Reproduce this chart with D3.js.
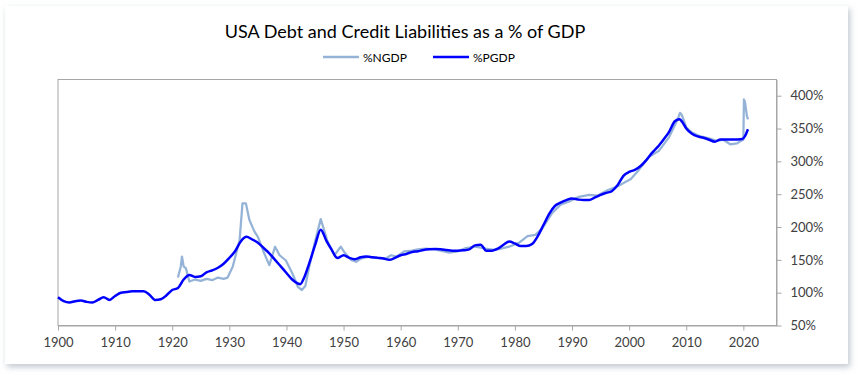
<!DOCTYPE html>
<html>
<head>
<meta charset="utf-8">
<script src="https://cdn.jsdelivr.net/npm/d3@7/dist/d3.min.js"></script>
<style>
  html, body { margin: 0; padding: 0; background: #ffffff; }
  svg { display: block; }
  text { font-family: Lato, "Open Sans", sans-serif; }
</style>
</head>
<body>
<svg id="chart" width="858" height="376"></svg>
<script>
// ---- Data ----
const title = "USA Debt and Credit Liabilities as a % of GDP";
const seriesNames = ["%NGDP", "%PGDP"];
const xTicks = [1900, 1910, 1920, 1930, 1940, 1950, 1960, 1970, 1980, 1990, 2000, 2010, 2020];
const yTicks = [50, 100, 150, 200, 250, 300, 350, 400];

const pgdpYears = [1900,1901,1902,1903,1904,1905,1906,1907,1908,1909,1910,1911,1912,1913,1914,1915,1916,1917,1918,1919,
  1920,1921,1922,1923,1924,1925,1926,1927,1928,1929,1930,1931,1932,1933,1934,1935,1936,1937,1938,1939,
  1940,1941,1942,1942.4,1943,1944,1945,1946,1947,1948,1948.7,1949,1950,1951,1952,1953,1954,1955,1956,1957,1958,1959,
  1960,1961,1962,1963,1964,1965,1966,1967,1968,1969,1970,1971,1972,1973,1974,1975,1976,1977,1978,1979,
  1980,1981,1982,1983,1984,1985,1986,1987,1988,1989,1990,1991,1992,1993,1994,1995,1996,1997,1998,1999,
  2000,2001,2002,2003,2004,2005,2006,2007,2008,2008.8,2009.3,2010,2011,2012,2013,2014,2015,2016,2017,2018,2019,2019.8,2020.3,2020.8];
const pgdpValues = [93,87,85,87,88,86,85,89,93,89,95,100,101,102,102,102,97,89,90,96,
  104,107,120,127,124,125,131,134,138,144,153,163,178,185,181,176,168,160,150,140,
  130,120,114,113,121,145,172,196,179,164,154,153,157,153,151,154,155,154,153,152,150,153,
  157,159,162,163,165,166,166.5,166,165,164,164,164.5,166,172,173,164,164,167,173,178,
  175,171,171,174,186,203,220,232,237,241,243.5,242,241,241,245,249,252,255,264,278,
  284,287,293,302,313,322,333,345,361,364,360,350,342,338,336,333,330,333.5,333.5,333.5,333.5,334,339,349];

const ngdpYears = [1921,1921.5,1921.7,1922,1922.4,1923,1924,1925,1926,1927,1928,1929,1929.7,1930.6,1931.5,1931.8,1932.3,1932.9,1933.5,1934.4,
  1935,1936.1,1937,1938,1938.8,1939.9,1941,1942,1942.7,1943.3,1944,1945,1946,1947.2,1948.4,1949.5,1950.1,1951.3,1952.2,1953,
  1954.5,1955.5,1957.4,1958.3,1959.3,1960.6,1962,1963,1964.4,1966,1967,1968.5,1970,1971.4,1973.1,1974.9,1976.6,1979,1980.7,1982.2,
  1983.6,1984.8,1986.5,1988,1989.5,1991.2,1993,1994.5,1996.2,1998,2000.3,2001.7,2003.5,2005.2,2007,2008.5,2008.9,2009.2,2010,2011,
  2012.5,2014,2015.4,2016.5,2017.7,2018.9,2019.5,2020,2020.1,2020.3,2020.6,2020.8];
const ngdpValues = [123,140,155,140,137,117,120,118,121,119,123,121,123,140,170,180,236,236,211,193,
  185,160,142,170,157,149,130,109,104,110,140,178,212,178,157,170,162,150,147,152,
  155,153,152,157,155,163,164,166,167,166,164,161,163,168,170,167,165,170,176,186,
  188,198,221,234,239,246,249,248,256,262,273,287,307,316,337,364,374,371,352,344,
  338,335,331,333,326,327.5,331,333,394.5,390,370,364];

// ---- Layout ----
const svg = d3.select("#chart");
const W = 858, H = 376;
const plot = { left: 58, right: 776.5, top: 79.5, bottom: 325.5 };

// card with shadow
const defs = svg.append("defs");
const f = defs.append("filter").attr("id", "shadow").attr("x", "-5%").attr("y", "-5%").attr("width", "110%").attr("height", "115%");
f.append("feDropShadow").attr("dx", 2).attr("dy", 3).attr("stdDeviation", 3).attr("flood-color", "#8a9aa8").attr("flood-opacity", 0.55);
svg.append("rect").attr("x", 5).attr("y", 6).attr("width", 843).attr("height", 358)
  .attr("fill", "#ffffff").attr("filter", "url(#shadow)");

const x = d3.scaleLinear().domain([1900, 2025.8]).range([plot.left, plot.right]);
const y = d3.scaleLinear().domain([50, 424.7]).range([plot.bottom, plot.top]);

// plot area border
svg.append("rect").attr("x", plot.left).attr("y", plot.top)
  .attr("width", plot.right - plot.left).attr("height", plot.bottom - plot.top)
  .attr("fill", "none").attr("stroke", "#a6a6a6").attr("stroke-width", 1);

// x axis
const xAxis = d3.axisBottom(x).tickValues(xTicks).tickFormat(d3.format("d")).tickSize(5).tickSizeOuter(0);
const gx = svg.append("g").attr("transform", `translate(0,${plot.bottom})`).call(xAxis);
gx.select(".domain").attr("stroke", "#a6a6a6");
gx.selectAll(".tick line").attr("stroke", "#a6a6a6");
gx.selectAll(".tick text").attr("fill", "#404040").attr("font-size", 13).attr("dy", "1.05em")
  .style("font-family", "Lato, sans-serif");

// y axis (right)
const yAxis = d3.axisRight(y).tickValues(yTicks).tickFormat(d => d + "%").tickSize(5).tickSizeOuter(0);
const gy = svg.append("g").attr("transform", `translate(${plot.right},0)`).call(yAxis);
gy.select(".domain").attr("stroke", "#a6a6a6");
gy.selectAll(".tick line").attr("stroke", "#a6a6a6");
gy.selectAll(".tick text").attr("fill", "#404040").attr("font-size", 13).attr("x", 14)
  .style("font-family", "Lato, sans-serif");

// lines
const line = d3.line().x(d => x(d[0])).y(d => y(d[1]));
const ngdp = ngdpYears.map((yr, i) => [yr, ngdpValues[i]]);
const pgdp = pgdpYears.map((yr, i) => [yr, pgdpValues[i]]);

svg.append("path").datum(ngdp).attr("d", line.curve(d3.curveLinear))
  .attr("fill", "none").attr("stroke", "#95b3d7").attr("stroke-width", 2.25).attr("stroke-linejoin", "round");
svg.append("path").datum(pgdp).attr("d", line.curve(d3.curveMonotoneX))
  .attr("fill", "none").attr("stroke", "#0000ff").attr("stroke-width", 2.5).attr("stroke-linejoin", "round");

// title
svg.append("text").attr("x", 405).attr("y", 38).attr("text-anchor", "middle")
  .attr("font-size", 18).attr("fill", "#000").text(title);

// legend
const legend = [
  { name: seriesNames[0], color: "#95b3d7", x1: 323 },
  { name: seriesNames[1], color: "#0000ff", x1: 433 }
];
legend.forEach(l => {
  svg.append("line").attr("x1", l.x1).attr("x2", l.x1 + 36).attr("y1", 57).attr("y2", 57)
    .attr("stroke", l.color).attr("stroke-width", 2.5);
  svg.append("text").attr("x", l.x1 + 40).attr("y", 61.5).attr("font-size", 12).attr("fill", "#000").text(l.name);
});
</script>
</body>
</html>
